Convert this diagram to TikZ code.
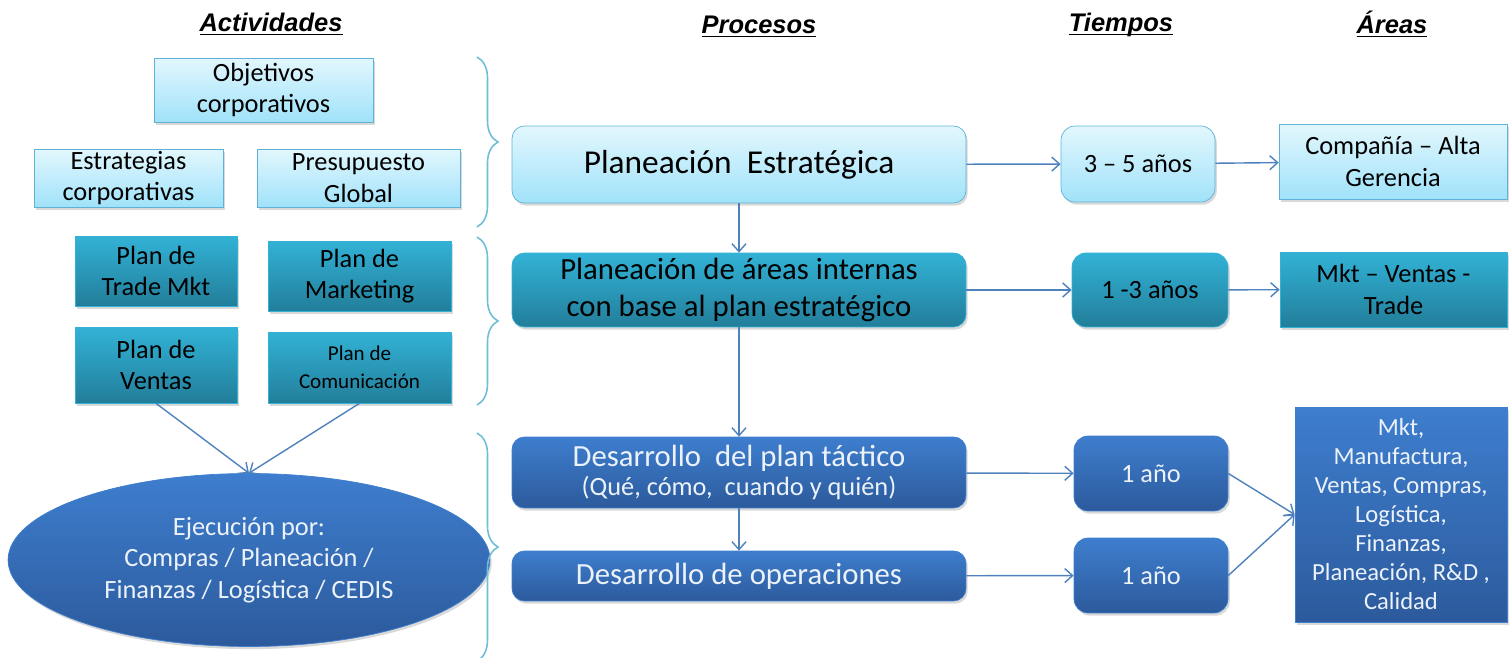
\documentclass[tikz,border=0pt]{standalone}
\usepackage{fontspec}
\setmainfont{Carlito}
\newfontfamily\hdrfont{Liberation Sans}
\usetikzlibrary{positioning,arrows.meta,shapes.geometric,shadows,decorations.pathreplacing}

\definecolor{lighttop}{RGB}{226,247,253}
\definecolor{lightbot}{RGB}{160,226,250}
\definecolor{lightline}{RGB}{95,178,214}
\definecolor{tealtop}{RGB}{50,178,214}
\definecolor{tealbot}{RGB}{34,126,154}
\definecolor{bluetop}{RGB}{62,126,206}
\definecolor{bluebot}{RGB}{44,90,156}
\definecolor{arrowblue}{RGB}{79,129,189}
\definecolor{bracecol}{RGB}{110,190,215}
\definecolor{paletext}{RGB}{236,242,250}
\newcommand{\hdrline}[1]{\underline{\smash{#1}\vphantom{a}}}

\begin{document}
\begin{tikzpicture}[x=0.02cm,y=-0.02cm,>={Straight Barb[length=4.5pt,width=8pt]},
  box/.style={inner sep=1pt,align=center,drop shadow={shadow xshift=1pt,shadow yshift=-1.5pt,opacity=0.3}},
  lightbox/.style={box,draw=lightline,top color=lighttop,bottom color=lightbot,text=black},
  tealbox/.style={box,draw=tealtop,top color=tealtop,bottom color=tealbot,text=black},
  bluebox/.style={box,draw=bluetop,top color=bluetop,bottom color=bluebot,text=paletext},
  txt/.style={font=\fontsize{15}{18}\selectfont},
  flow/.style={->,arrowblue,line width=0.8pt},
  brace/.style={bracecol,line width=0.9pt,decorate,decoration={brace,amplitude=0.42cm}},
  header/.style={anchor=base,font=\hdrfont\bfseries\itshape\fontsize{14.5}{17}\selectfont}]
\useasboundingbox (0,0) rectangle (1512,658);

% headers
\node[header] (hact) at (271,32) {\hdrline{Actividades}};
\node[header] (hpro) at (759,34) {\hdrline{Procesos}};
\node[header] (htie) at (1121,32) {\hdrline{Tiempos}};
\node[header] (hare) at (1392,34) {\hdrline{Áreas}};

% actividades
\node[lightbox,txt,minimum width=4.38cm,minimum height=1.28cm] (obj) at (263.5,90) {Objetivos\\corporativos};
\node[lightbox,txt,minimum width=3.78cm,minimum height=1.16cm] (estr) at (128.5,178) {Estrategias\\corporativas};
\node[lightbox,txt,minimum width=4.06cm,minimum height=1.16cm] (pres) at (358.5,178) {Presupuesto\\Global};
\node[tealbox,txt,minimum width=3.24cm,minimum height=1.4cm] (trade) at (156,271) {Plan de\\Trade Mkt};
\node[tealbox,txt,minimum width=3.66cm,minimum height=1.4cm] (mkt) at (359.5,276) {Plan de\\Marketing};
\node[tealbox,txt,minimum width=3.24cm,minimum height=1.52cm] (ventas) at (156,365) {Plan de\\Ventas};
\node[tealbox,font=\fontsize{12}{16}\selectfont,minimum width=3.66cm,minimum height=1.42cm] (com) at (359.5,367.5) {Plan de\\Comunicación};
\node[bluebox,txt,ellipse,minimum width=9.64cm,minimum height=3.46cm] (ejec) at (249,560) {Ejecución por:\\Compras / Planeación /\\Finanzas / Logística / CEDIS};
\draw[flow] (ventas.south) -- (ejec.north);
\draw[flow] (com.south) -- (ejec.north);

% braces
\draw[brace] (477,57) -- (477,227);
\draw[brace] (477,237) -- (477,405);
\draw[brace] (477,433) -- (477,661);

% procesos
\node[lightbox,rounded corners=7pt,font=\fontsize{19}{22}\selectfont,minimum width=9.08cm,minimum height=1.54cm] (pe) at (739,164.5) {Planeación\ \ Estratégica};
\node[tealbox,rounded corners=7pt,font=\fontsize{17.5}{21}\selectfont,minimum width=9.08cm,minimum height=1.48cm] (pai) at (739,290) {Planeación de áreas internas\\con base al plan estratégico};
\node[bluebox,rounded corners=7pt,minimum width=9.08cm,minimum height=1.42cm] (dpt) at (739,472.5) {\fontsize{17.5}{21}\selectfont Desarrollo\ \ del plan táctico\\[2pt]\fontsize{15}{18}\selectfont (Qué, cómo,\ \ cuando y quién)};
\node[bluebox,rounded corners=7pt,font=\fontsize{17.5}{21}\selectfont,minimum width=9.08cm,minimum height=1cm] (dop) at (739,576) {Desarrollo de operaciones};
\draw[flow] (pe) -- (pai);
\draw[flow] (pai) -- (dpt);
\draw[flow] (dpt) -- (dop);

% tiempos
\node[lightbox,txt,rounded corners=8pt,minimum width=3.08cm,minimum height=1.52cm] (t1) at (1138,164) {3 -- 5 años};
\node[tealbox,txt,rounded corners=8pt,minimum width=3.12cm,minimum height=1.48cm] (t2) at (1150,290) {1 -3 años};
\node[bluebox,txt,rounded corners=8pt,minimum width=3.08cm,minimum height=1.5cm] (t3) at (1151,473.5) {1 año};
\node[bluebox,txt,rounded corners=8pt,minimum width=3.08cm,minimum height=1.5cm] (t4) at (1151,575.5) {1 año};
\draw[flow] (pe) -- (t1);
\draw[flow] (pai) -- (t2);
\draw[flow] (dpt) -- (t3);
\draw[flow] (dop) -- (t4);

% areas
\node[lightbox,txt,minimum width=4.56cm,minimum height=1.5cm] (a1) at (1393,161.5) {Compañía -- Alta\\Gerencia};
\node[tealbox,txt,minimum width=4.54cm,minimum height=1.5cm] (a2) at (1393.5,289.5) {Mkt -- Ventas -\\Trade};
\node[bluebox,font=\fontsize{14}{16.5}\selectfont,minimum width=4.24cm,minimum height=4.3cm] (a3) at (1401,514.5) {Mkt,\\Manufactura,\\Ventas, Compras,\\Logística,\\Finanzas,\\Planeación, R\&D ,\\Calidad};
\draw[flow] (t1) -- (a1);
\draw[flow] (t2) -- (a2);
\draw[flow] (t3.east) -- (a3.west);
\draw[flow] (t4.east) -- (a3.west);
\end{tikzpicture}
\end{document}
